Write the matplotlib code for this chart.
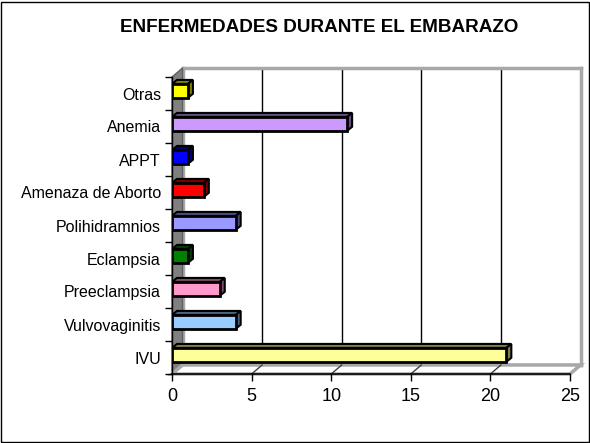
import matplotlib
matplotlib.use("Agg")
import matplotlib.pyplot as plt
from matplotlib.patches import Polygon, Rectangle
from matplotlib.colors import to_rgb

categories = ["IVU", "Vulvovaginitis", "Preeclampsia", "Eclampsia", "Polihidramnios",
              "Amenaza de Aborto", "APPT", "Anemia", "Otras"]
values = [21, 4, 3, 1, 4, 2, 1, 11, 1]
colors = ["#FFFF99", "#99CCFF", "#FF99CC", "#008000", "#9999FF",
          "#FF0000", "#0000FF", "#CC99FF", "#FFFF00"]
xticks = [0, 5, 10, 15, 20, 25]
title = "ENFERMEDADES DURANTE EL EMBARAZO"

W, H = 590, 443
fig = plt.figure(figsize=(W / 100, H / 100), dpi=100)
plt.rcParams['font.family'] = ['Liberation Sans', 'DejaVu Sans']

# front plane (pixel layout)
L, R, T, B = 172, 570, 77, 374
DX, DY = 10.5, 9.0   # wall depth in pixels
def fpos(l, r, t, b):
    return [l / W, 1 - b / H, (r - l) / W, (b - t) / H]

# back wall
axb = fig.add_axes(fpos(L + DX, R + DX, T - DY, B - DY), zorder=0)
axb.set_xlim(0, 25)
axb.set_ylim(0, 1)
axb.set_xticks(xticks[1:-1])
axb.set_yticks([])
axb.tick_params(length=0, labelbottom=False)
axb.grid(axis='x', color='black', lw=1)
for s in axb.spines.values():
    s.set_color('#A8A8A8')
    s.set_linewidth(2.5)

# side wall and floor
side = Polygon([(L / W, 1 - T / H), ((L + DX) / W, 1 - (T - DY) / H),
                ((L + DX) / W, 1 - (B - DY) / H), (L / W, 1 - B / H)],
               closed=True, transform=fig.transFigure, facecolor='#808080',
               edgecolor='#606060', lw=1, zorder=0.5)
floor = Polygon([(L / W, 1 - B / H), ((L + DX) / W, 1 - (B - DY) / H),
                 ((R + DX) / W, 1 - (B - DY) / H), (R / W, 1 - B / H)],
                closed=True, transform=fig.transFigure, facecolor='white',
                edgecolor='#A8A8A8', lw=2.5, zorder=0.5)
fig.patches.extend([side, floor])

# front axes
ax = fig.add_axes(fpos(L, R, T, B), zorder=1)
ax.patch.set_alpha(0)
ax.set_xlim(0, 25)
ax.set_ylim(-0.5, len(categories) - 0.5)
for s in ['top', 'right']:
    ax.spines[s].set_visible(False)
ax.spines['left'].set_linewidth(1)
ax.spines['bottom'].set_linewidth(1.2)

sx = (R - L) / 25.0
sy = (B - T) / len(categories)
ddx, ddy = 5 / sx, 4 / sy          # bar depth in data units
fdx, fdy = DX / sx, DY / sy        # floor depth in data units

# floor grid lines
for v in xticks[1:-1]:
    ax.plot([v, v + fdx], [-0.5, -0.5 + fdy], color='#404040', lw=1,
            clip_on=False, zorder=2)

h = 0.42
ys = [i + 0.08 for i in range(len(categories))]
ax.barh(ys, values, height=h, color=colors, edgecolor='black', lw=2, zorder=4)
for y, v, c in zip(ys, values, colors):
    dark = tuple(0.5 * x for x in to_rgb(c))
    top = Polygon([(0, y + h / 2), (v, y + h / 2), (v + ddx, y + h / 2 + ddy),
                   (ddx, y + h / 2 + ddy)], closed=True, facecolor=dark,
                  edgecolor='black', lw=1.5, zorder=3)
    right = Polygon([(v, y - h / 2), (v + ddx, y - h / 2 + ddy),
                     (v + ddx, y + h / 2 + ddy), (v, y + h / 2)], closed=True,
                    facecolor=dark, edgecolor='black', lw=1.5, zorder=3)
    ax.add_patch(top)
    ax.add_patch(right)

ax.set_xticks(xticks)
ax.set_xticklabels([str(t) for t in xticks], fontsize=13)
ax.tick_params(axis='x', length=5, width=1, pad=5)
ax.set_yticks(range(len(categories)))
ax.set_yticklabels(categories, fontsize=11.5)
ax.set_yticks([i - 0.5 for i in range(len(categories) + 1)], minor=True)
ax.tick_params(axis='y', which='major', length=0, pad=8)
ax.tick_params(axis='y', which='minor', length=5, width=1)

fig.text(0.541, 1 - 27 / H, title, ha='center', va='center',
         fontsize=13.6, fontweight='bold')

fig.patches.append(Rectangle((1 / W, 1 / H), (W - 2.5) / W, (H - 2.5) / H,
                             transform=fig.transFigure, fill=False,
                             edgecolor='black', lw=1, zorder=10))

fig.savefig("out.png", dpi=100)
